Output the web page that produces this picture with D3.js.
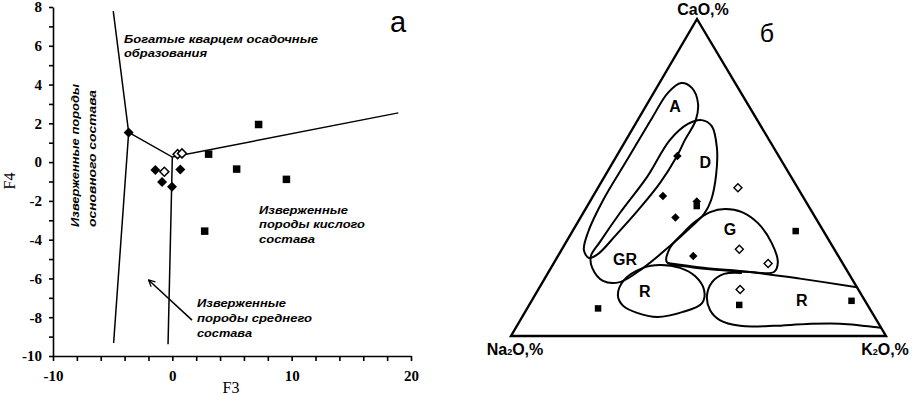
<!DOCTYPE html>
<html><head><meta charset="utf-8">
<script src="https://cdn.jsdelivr.net/npm/d3@7"></script>
<style>body{margin:0;background:#fff} svg{display:block}</style>
</head><body>
<svg id="c" width="914" height="395"></svg>
<script>
// ===== Chart "а": F3 – F4 diagram =====
const xTickValues = [-10,-8,-6,-4,-2,0,2,4,6,8,10,12,14,16,18,20];
const xTickLabels = [-10,0,10,20];
const yTickValues = [-10,-9,-8,-7,-6,-5,-4,-3,-2,-1,0,1,2,3,4,5,6,7,8];
const yTickLabels = [-10,-8,-6,-4,-2,0,2,4,6,8];

const filledDiamondsF3 = [-3.66, -1.42, -0.86, -0.03, 0.67];
const filledDiamondsF4 = [1.53, -0.41, -1.02, -1.27, -0.38];
const openDiamondsF3 = [-0.67, 0.44, 0.81];
const openDiamondsF4 = [-0.50, 0.41, 0.45];
const squaresF3 = [3.04, 5.39, 7.23, 9.56, 2.71];
const squaresF4 = [0.41, -0.36, 1.94, -0.89, -3.56];

const boundaryLines = [
  [[-4.95, 7.79], [-3.66, 1.53], [-4.92, -9.33]],
  [[-3.66, 1.53], [0, 0.26], [18.94, 2.54]],
  [[0, 0.26], [-0.36, -9.39]]
];
const arrowLine = [[1.65, -8.15], [-1.99, -6.08]];

// ===== Chart "б": CaO – Na2O – K2O ternary, values as [CaO %, K2O %] =====
const tFilledDiamonds = [[56.8,16.2],[44.2,18.6],[37.4,25.3],[25.2,36.1],[42.4,28.5]];
const tOpenDiamonds = [[46.8,37.3],[27.4,47.3],[22.9,57.2],[14.7,53.8]];
const tSquares = [[33.1,59.5],[11.1,85.3],[9.8,56.0],[8.7,18.9],[41.0,29.2]];

const fieldA = [[79.8,5.8],[78.2,9.5],[73.5,13.4],[68.1,15.5],[61.8,15.7],[56.8,16.1],[48.3,15.8],
  [39.7,14.2],[31.9,12.2],[25.9,10.4],[24.6,8.6],[27.1,6.0],[32.8,4.3],[42.9,3.3],[55.5,3.4],[68.8,3.5],[76.7,3.8]];
const fieldDGR = [[68.1,17.1],[66.2,20.7],[59.3,25.5],[50.8,29.5],[42.9,32.1],[38.5,32.4],[34.1,30.8],
  [28.4,28.3],[21.5,24.6],[17.0,20.6],[17.4,15.9],[21.5,11.0],[25.2,8.8],[29.7,9.0],[38.8,9.8],
  [50.2,11.4],[61.8,11.7],[66.9,14.0]];
const fieldG = [[23.3,30.0],[27.8,28.6],[32.2,29.7],[36.0,31.2],[39.1,33.7],[40.1,37.2],[39.1,42.2],
  [35.6,48.2],[29.3,55.0],[23.3,59.6],[20.2,60.1],[20.2,53.7],[20.8,45.4],[21.8,36.9]];
const fieldRleft = [[21.5,24.6],[22.4,28.6],[21.5,34.4],[18.9,39.7],[14.5,44.3],[10.4,45.8],[7.6,42.1],
  [6.0,36.0],[7.3,30.0],[9.5,25.2],[12.9,22.1],[17.7,21.4]];
const lineGtoEdge = [[23.0,30.2],[21.5,40.6],[20.2,53.7],[18.1,68.1],[15.4,84.6]];
const fieldRright = [[19.9,51.7],[19.6,47.1],[17.0,45.2],[12.6,46.0],[8.2,49.0],[5.0,53.2],[3.2,59.5],
  [3.2,68.3],[3.8,77.1],[3.9,85.8],[2.6,97.4]];
const fieldLabels = ["A","D","G","GR","R","R"];
const fieldLabelPos = [[72.6,7.7],[55.0,24.5],[33.7,41.7],[24.2,18.4],[14.3,28.6],[11.4,71.9]];
const triangleVertices = [[100,0],[0,0],[0,100]];

// ================= drawing =================
const svg = d3.select("#c");
const serif = "'Liberation Serif','Times New Roman',serif";
const sans = "'Liberation Sans',Arial,sans-serif";

const x = d3.scaleLinear().domain([-10,20]).range([53,411]);
const y = d3.scaleLinear().domain([-10,8]).range([356,7]);

const styleAxis = g => {
  g.select(".domain").attr("stroke","#000").attr("stroke-width",1.6);
  g.selectAll(".tick line").attr("stroke","#000").attr("stroke-width",1.6);
  g.selectAll(".tick text").attr("font-family",serif).attr("font-weight","bold")
    .attr("font-size",15).attr("fill","#000");
};
svg.append("g").attr("transform",`translate(0,${y(-10)})`)
  .call(d3.axisBottom(x).tickValues(xTickValues)
    .tickFormat(d => xTickLabels.includes(d) ? String(d) : "")
    .tickSize(5).tickSizeOuter(0).tickPadding(9))
  .call(styleAxis);
svg.append("g").attr("transform",`translate(${x(-10)},0)`)
  .call(d3.axisLeft(y).tickValues(yTickValues)
    .tickFormat(d => yTickLabels.includes(d) ? String(d) : "")
    .tickSize(4).tickSizeOuter(0).tickPadding(7))
  .call(styleAxis);

svg.append("text").attr("x",231).attr("y",393).attr("text-anchor","middle")
  .attr("font-family",serif).attr("font-size",16).text("F3");
svg.append("text").attr("transform","translate(15,181) rotate(-90)").attr("text-anchor","middle")
  .attr("font-family",serif).attr("font-size",16).text("F4");

const lineL = d3.line().x(d => x(d[0])).y(d => y(d[1]));
svg.append("g").selectAll("path").data(boundaryLines).join("path")
  .attr("d", lineL).attr("fill","none").attr("stroke","#000").attr("stroke-width",1.5);

svg.append("defs").append("marker").attr("id","arr").attr("viewBox","0 0 10 10")
  .attr("refX",9).attr("refY",5).attr("markerWidth",8).attr("markerHeight",8)
  .attr("orient","auto").attr("markerUnits","userSpaceOnUse")
  .append("path").attr("d","M1,1 L9,5 L1,9").attr("fill","none").attr("stroke","#000").attr("stroke-width",1.6);
svg.append("path").attr("d", lineL(arrowLine)).attr("stroke","#000").attr("stroke-width",1.5)
  .attr("fill","none").attr("marker-end","url(#arr)");

const diamondSym = s => d3.symbol(d3.symbolSquare, s*s/2)();
const squareSym = s => d3.symbol(d3.symbolSquare, s*s)();

svg.append("g").selectAll("path").data(filledDiamondsF3).join("path")
  .attr("transform",(d,i)=>`translate(${x(d)},${y(filledDiamondsF4[i])}) rotate(45)`)
  .attr("d", diamondSym(10)).attr("fill","#000");
svg.append("g").selectAll("path").data(openDiamondsF3).join("path")
  .attr("transform",(d,i)=>`translate(${x(d)},${y(openDiamondsF4[i])}) rotate(45)`)
  .attr("d", diamondSym(9)).attr("fill","#fff").attr("stroke","#000").attr("stroke-width",1.5);
svg.append("g").selectAll("path").data(squaresF3).join("path")
  .attr("transform",(d,i)=>`translate(${x(d)},${y(squaresF4[i])})`)
  .attr("d", squareSym(7.5)).attr("fill","#000");

// annotation texts (chart а)
const annoStyle = sel => sel.attr("font-family",sans).attr("font-weight","bold")
  .attr("font-style","italic").attr("font-size",11).attr("fill","#000")
  .attr("lengthAdjust","spacingAndGlyphs");
const annots = [
  {t:"Богатые кварцем осадочные", x:124, y:43, w:194},
  {t:"образования", x:124, y:57, w:83},
  {t:"Изверженные", x:259, y:214, w:89},
  {t:"породы кислого", x:259, y:228, w:106},
  {t:"состава", x:259, y:243, w:56},
  {t:"Изверженные", x:197, y:307, w:89},
  {t:"породы среднего", x:197, y:322, w:115},
  {t:"состава", x:197, y:337, w:55}
];
svg.append("g").selectAll("text").data(annots).join("text")
  .attr("x",d=>d.x).attr("y",d=>d.y).attr("textLength",d=>d.w).text(d=>d.t).call(annoStyle);
const vAnnots = [
  {t:"Изверженные породы", x:79, y:227, w:143},
  {t:"основного состава", x:96, y:227, w:137}
];
svg.append("g").selectAll("text").data(vAnnots).join("text")
  .attr("transform",d=>`translate(${d.x},${d.y}) rotate(-90)`)
  .attr("textLength",d=>d.w).text(d=>d.t).call(annoStyle);

svg.append("text").attr("x",398).attr("y",32).attr("text-anchor","middle")
  .attr("font-family",sans).attr("font-size",29).text("а");

// ===== ternary =====
const caY = d3.scaleLinear().domain([0,100]).range([336,19]);
const caX = d3.scaleLinear().domain([0,100]).range([0,186]);
const kX = d3.scaleLinear().domain([0,100]).range([511,886]);
const tern = d => [kX(d[1]) + caX(d[0]), caY(d[0])];

svg.append("path").attr("d", d3.line().curve(d3.curveLinearClosed)(triangleVertices.map(tern)))
  .attr("fill","none").attr("stroke","#000").attr("stroke-width",2.4).attr("stroke-linejoin","miter");

const closedCurve = d3.line().curve(d3.curveCatmullRomClosed.alpha(0.5));
const openCurve = d3.line().curve(d3.curveCatmullRom.alpha(0.5));
[fieldA, fieldDGR, fieldG, fieldRleft].forEach(f => {
  svg.append("path").attr("d", closedCurve(f.map(tern)))
    .attr("fill","none").attr("stroke","#000").attr("stroke-width",2);
});
[lineGtoEdge, fieldRright].forEach(f => {
  svg.append("path").attr("d", openCurve(f.map(tern)))
    .attr("fill","none").attr("stroke","#000").attr("stroke-width",2);
});

svg.append("g").selectAll("path").data(tFilledDiamonds).join("path")
  .attr("transform",d=>{const p=tern(d);return `translate(${p[0]},${p[1]}) rotate(45)`;})
  .attr("d", diamondSym(8.5)).attr("fill","#000");
svg.append("g").selectAll("path").data(tOpenDiamonds).join("path")
  .attr("transform",d=>{const p=tern(d);return `translate(${p[0]},${p[1]}) rotate(45)`;})
  .attr("d", diamondSym(8)).attr("fill","#fff").attr("stroke","#000").attr("stroke-width",1.4);
svg.append("g").selectAll("path").data(tSquares).join("path")
  .attr("transform",d=>{const p=tern(d);return `translate(${p[0]},${p[1]})`;})
  .attr("d", squareSym(6.5)).attr("fill","#000");

svg.append("g").selectAll("text").data(fieldLabels).join("text")
  .attr("x",(d,i)=>tern(fieldLabelPos[i])[0]).attr("y",(d,i)=>tern(fieldLabelPos[i])[1]+6)
  .attr("text-anchor","middle").attr("font-family",sans).attr("font-weight","bold")
  .attr("font-size",16).text(d=>d);

const vlab = (txt, sub, rest, xx, yy) => {
  const t = svg.append("text").attr("x",xx).attr("y",yy).attr("text-anchor","middle")
    .attr("font-family",sans).attr("font-weight","bold").attr("font-size",16);
  t.append("tspan").text(txt);
  if (sub) t.append("tspan").attr("font-size",9).text(sub);
  t.append("tspan").text(rest);
};
vlab("CaO,%", "", "", 703, 15);
vlab("Na", "2", "O,%", 515, 355);
vlab("K", "2", "O,%", 885, 355);

svg.append("text").attr("x",767).attr("y",42).attr("text-anchor","middle")
  .attr("font-family",sans).attr("font-size",25).text("б");
</script>
</body></html>
